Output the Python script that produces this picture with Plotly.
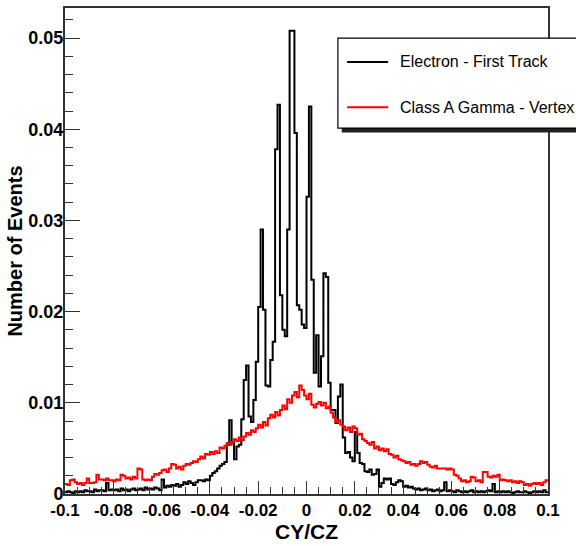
import numpy as np
import plotly.graph_objects as go

# Histogram binning for CY/CZ
x_min, x_max, n_bins = -0.1, 0.1, 200

# Normalised bin contents (fraction of events per bin)
electron_first_track = [
    0.0002, 0.0003, 0.0002, 0.0001, 0.0003, 0.0002, 0.0003, 0.0002, 0.0004, 0.0003,
    0.0003, 0.0002, 0.0005, 0.0003, 0.0004, 0.0004, 0.0003, 0.0012, 0.0004, 0.0005,
    0.0004, 0.0005, 0.0003, 0.0006, 0.0004, 0.0005, 0.0003, 0.0005, 0.0006, 0.0004,
    0.0005, 0.0006, 0.0004, 0.0007, 0.0005, 0.0006, 0.0005, 0.0007, 0.0006, 0.0004,
    0.0016, 0.0007, 0.0009, 0.0008, 0.0010, 0.0009, 0.0011, 0.0008, 0.0010, 0.0013,
    0.0011, 0.0014, 0.0012, 0.0010, 0.0013, 0.0015, 0.0015, 0.0014, 0.0016, 0.0015,
    0.0020, 0.0023, 0.0025, 0.0028, 0.0031, 0.0033, 0.0035, 0.0054, 0.0081, 0.0056,
    0.0038, 0.0052, 0.0054, 0.0082, 0.0125, 0.0141, 0.0085, 0.0079, 0.0103, 0.0145,
    0.0205, 0.0290, 0.0202, 0.0119, 0.0118, 0.0147, 0.0167, 0.0378, 0.0427, 0.0218,
    0.0180, 0.0173, 0.0290, 0.0508, 0.0508, 0.0396, 0.0207, 0.0202, 0.0186, 0.0182,
    0.0326, 0.0425, 0.0235, 0.0133, 0.0174, 0.0118, 0.0151, 0.0242, 0.0238, 0.0122,
    0.0092, 0.0092, 0.0078, 0.0107, 0.0120, 0.0062, 0.0045, 0.0046, 0.0040, 0.0036,
    0.0068, 0.0045, 0.0034, 0.0033, 0.0025, 0.0024, 0.0027, 0.0021, 0.0022, 0.0027,
    0.0008, 0.0012, 0.0017, 0.0016, 0.0017, 0.0011, 0.0010, 0.0013, 0.0015, 0.0014,
    0.0008, 0.0009, 0.0007, 0.0008, 0.0006, 0.0005, 0.0006, 0.0004, 0.0005, 0.0006,
    0.0004, 0.0005, 0.0003, 0.0004, 0.0005, 0.0003, 0.0004, 0.0013, 0.0003, 0.0004,
    0.0003, 0.0002, 0.0004, 0.0003, 0.0002, 0.0003, 0.0002, 0.0003, 0.0004, 0.0002,
    0.0003, 0.0002, 0.0003, 0.0002, 0.0003, 0.0004, 0.0003, 0.0011, 0.0002, 0.0003,
    0.0002, 0.0003, 0.0002, 0.0003, 0.0002, 0.0001, 0.0002, 0.0003, 0.0002, 0.0002,
    0.0003, 0.0002, 0.0001, 0.0002, 0.0003, 0.0002, 0.0003, 0.0002, 0.0004, 0.0002,
]

class_a_gamma_vertex = [
    0.0011, 0.0010, 0.0015, 0.0016, 0.0013, 0.0011, 0.0012, 0.0010, 0.0012, 0.0017,
    0.0012, 0.0012, 0.0013, 0.0021, 0.0016, 0.0016, 0.0015, 0.0017, 0.0015, 0.0015,
    0.0014, 0.0016, 0.0015, 0.0021, 0.0020, 0.0017, 0.0018, 0.0016, 0.0019, 0.0017,
    0.0028, 0.0027, 0.0016, 0.0015, 0.0016, 0.0015, 0.0019, 0.0022, 0.0021, 0.0023,
    0.0026, 0.0027, 0.0024, 0.0028, 0.0033, 0.0032, 0.0028, 0.0030, 0.0027, 0.0031,
    0.0033, 0.0032, 0.0034, 0.0036, 0.0035, 0.0038, 0.0041, 0.0039, 0.0044, 0.0043,
    0.0046, 0.0044, 0.0047, 0.0045, 0.0051, 0.0050, 0.0053, 0.0056, 0.0054, 0.0057,
    0.0060, 0.0058, 0.0062, 0.0059, 0.0063, 0.0067, 0.0065, 0.0070, 0.0068, 0.0072,
    0.0076, 0.0073, 0.0079, 0.0075, 0.0083, 0.0087, 0.0084, 0.0090, 0.0086, 0.0092,
    0.0097, 0.0093, 0.0104, 0.0100, 0.0108, 0.0112, 0.0106, 0.0119, 0.0114, 0.0108,
    0.0104, 0.0110, 0.0098, 0.0095, 0.0099, 0.0101, 0.0097, 0.0100, 0.0094, 0.0096,
    0.0089, 0.0084, 0.0079, 0.0081, 0.0076, 0.0074, 0.0070, 0.0073, 0.0068, 0.0074,
    0.0072, 0.0065, 0.0066, 0.0060, 0.0058, 0.0056, 0.0054, 0.0057, 0.0050, 0.0052,
    0.0048, 0.0050, 0.0047, 0.0049, 0.0044, 0.0043, 0.0040, 0.0042, 0.0038, 0.0037,
    0.0036, 0.0034, 0.0035, 0.0032, 0.0033, 0.0031, 0.0033, 0.0036, 0.0034, 0.0035,
    0.0032, 0.0030, 0.0029, 0.0031, 0.0028, 0.0028, 0.0028, 0.0028, 0.0027, 0.0028,
    0.0027, 0.0021, 0.0020, 0.0017, 0.0014, 0.0015, 0.0013, 0.0014, 0.0019, 0.0018,
    0.0014, 0.0015, 0.0013, 0.0024, 0.0024, 0.0019, 0.0018, 0.0020, 0.0019, 0.0021,
    0.0015, 0.0016, 0.0015, 0.0014, 0.0015, 0.0013, 0.0014, 0.0012, 0.0014, 0.0013,
    0.0010, 0.0011, 0.0009, 0.0011, 0.0012, 0.0011, 0.0012, 0.0010, 0.0013, 0.0015,
]

series_names = ["Electron - First Track", "Class A Gamma - Vertex"]
series_colors = ["black", "#ff0000"]

x_tick_vals = [-0.1, -0.08, -0.06, -0.04, -0.02, 0.0, 0.02, 0.04, 0.06, 0.08, 0.1]
x_tick_text = ["-0.1", "-0.08", "-0.06", "-0.04", "-0.02", "0",
               "0.02", "0.04", "0.06", "0.08", "0.1"]
y_tick_vals = [0.0, 0.01, 0.02, 0.03, 0.04, 0.05]
y_tick_text = ["0", "0.01", "0.02", "0.03", "0.04", "0.05"]

assert len(electron_first_track) == n_bins
assert len(class_a_gamma_vertex) == n_bins

edges = np.linspace(x_min, x_max, n_bins + 1)


def step_outline(values):
    """Bin edges and contents for an 'hv' step outline of a histogram."""
    return edges, list(values) + [values[-1]]


fig = go.Figure()
for values, name, color in zip([electron_first_track, class_a_gamma_vertex],
                               series_names, series_colors):
    sx, sy = step_outline(values)
    fig.add_trace(go.Scatter(
        x=sx, y=sy, mode="lines", name=name, showlegend=False,
        line=dict(color=color, width=2, shape="hv"),
    ))

font_family = "Liberation Sans, Arial, sans-serif"
frame_color = "#333333"

fig.update_layout(
    width=576, height=546,
    margin=dict(l=65, r=28, t=8, b=52, autoexpand=False),
    paper_bgcolor="white", plot_bgcolor="white",
    font=dict(family=font_family, color="black"),
    showlegend=False,
)

fig.update_xaxes(
    range=[x_min, x_max],
    tickmode="array", tickvals=x_tick_vals, ticktext=x_tick_text,
    ticks="inside", ticklen=13, tickwidth=1.2, tickcolor=frame_color,
    minor=dict(tickmode="linear", tick0=x_min, dtick=0.005,
               ticks="inside", ticklen=7, tickwidth=1.2, tickcolor=frame_color),
    tickfont=dict(size=17, family=font_family, weight="bold"),
    showline=True, linecolor=frame_color, linewidth=2, mirror=True,
    showgrid=False, zeroline=False,
    title=dict(text="CY/CZ", font=dict(size=21, family=font_family, weight="bold"),
               standoff=0),
)
fig.update_yaxes(
    range=[0, 0.0533],
    tickmode="array", tickvals=y_tick_vals, ticktext=y_tick_text,
    ticks="inside", ticklen=15, tickwidth=1.2, tickcolor=frame_color,
    minor=dict(tickmode="linear", tick0=0, dtick=0.002,
               ticks="inside", ticklen=8, tickwidth=1.2, tickcolor=frame_color),
    tickfont=dict(size=18, family=font_family, weight="bold"),
    ticklabelstandoff=-4,
    showline=True, linecolor=frame_color, linewidth=2, mirror=True,
    showgrid=False, zeroline=False,
    title=dict(text="Number of Events",
               font=dict(size=20, family=font_family, weight="bold"), standoff=0),
)

# Legend box (with drop shadow), sample lines and labels, in paper coordinates
box_x0, box_y0, box_y1 = 0.565, 0.753, 0.938
fig.add_shape(type="rect", xref="paper", yref="paper",
              x0=box_x0 + 0.008, x1=1.3, y0=box_y0 - 0.009, y1=box_y1 - 0.008,
              fillcolor="#222222", line=dict(width=0), layer="above")
fig.add_shape(type="rect", xref="paper", yref="paper",
              x0=box_x0, x1=1.3, y0=box_y0, y1=box_y1,
              fillcolor="white", line=dict(color="black", width=1.2), layer="above")

entry_y = [0.889, 0.796]
for name, color, yy in zip(series_names, series_colors, entry_y):
    fig.add_shape(type="line", xref="paper", yref="paper",
                  x0=0.584, x1=0.669, y0=yy, y1=yy,
                  line=dict(color=color, width=2), layer="above")
    fig.add_annotation(text=name, xref="paper", yref="paper",
                       x=0.689, y=yy, xanchor="left", yanchor="middle",
                       showarrow=False,
                       font=dict(size=16, family=font_family, color="black"))

fig.write_html("out.html")
